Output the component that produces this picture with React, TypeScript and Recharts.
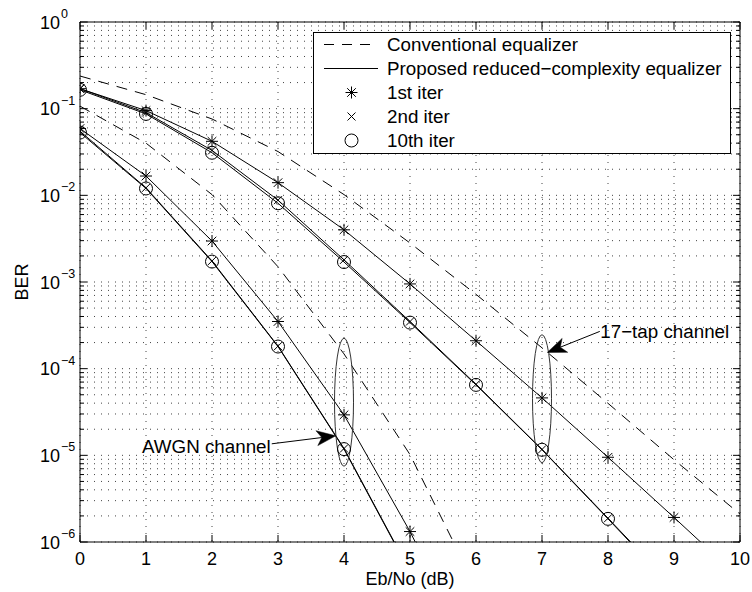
import React from "react";
import {
  LineChart,
  Line,
  XAxis,
  YAxis,
  CartesianGrid,
  ReferenceDot,
  Legend,
} from "recharts";

const FONT = '"Liberation Sans", Arial, Helvetica, sans-serif';

const snrDb = [0, 1, 2, 3, 4, 5, 6, 7, 8, 9, 10];

// 17-tap channel
const tapConventional = [0.238, 0.145, 0.076, 0.032, 0.0102, 2.82e-3, 7.2e-4, 1.74e-4, 3.98e-5, 8.9e-6, 2.1e-6];
const tapIter1 = [0.17, 0.095, 0.042, 0.014, 4.0e-3, 9.5e-4, 2.1e-4, 4.6e-5, 9.5e-6, 1.92e-6, 3.8e-7];
const tapIter2 = [0.17, 0.09, 0.033, 8.8e-3, 1.8e-3, 3.5e-4, 6.6e-5, 1.17e-5, 1.88e-6, 3.0e-7];
const tapIter10 = [0.165, 0.087, 0.031, 8.1e-3, 1.7e-3, 3.4e-4, 6.5e-5, 1.16e-5, 1.85e-6, 2.9e-7];

// AWGN channel
const awgnConventional = [0.107, 0.04, 0.0102, 1.5e-3, 1.48e-4, 1.02e-5, 3.0e-7];
const awgnIter1 = [0.059, 0.0167, 2.97e-3, 3.5e-4, 2.93e-5, 1.32e-6, 4.0e-8];
const awgnIter2 = [0.055, 0.0122, 1.75e-3, 1.82e-4, 1.2e-5, 4.6e-7];
const awgnIter10 = [0.053, 0.012, 1.72e-3, 1.8e-4, 1.18e-5, 4.5e-7];

const xTicks = [0, 1, 2, 3, 4, 5, 6, 7, 8, 9, 10];
const berTicks = [1e-6, 1e-5, 1e-4, 1e-3, 1e-2, 1e-1, 1];
const minorSteps = [2, 3, 4, 5, 6, 7, 8, 9];
const berGridTicks = berTicks.flatMap((t, i) =>
  i === berTicks.length - 1
    ? [t]
    : [t, ...minorSteps.map((m) => Number((m * t).toPrecision(2)))]
);

const legendLabels = [
  "Conventional equalizer",
  "Proposed reduced\u2212complexity equalizer",
  "1st iter",
  "2nd iter",
  "10th iter",
];
const legendKinds = ["dash", "solid", "star", "cross", "circle"];

// annotation anchors (data coordinates)
const awgnEllipse = { x: 4, y: 4.1e-5 };
const tapEllipse = { x: 7, y: 4.5e-5 };
const awgnArrowTip = { x: 3.875, y: 1.68e-5 };
const tapArrowTip = { x: 7.08, y: 1.54e-4 };

const data = snrDb.map((x, i) => ({
  x,
  tapConventional: tapConventional[i],
  tapIter1: tapIter1[i],
  tapIter2: tapIter2[i],
  tapIter10: tapIter10[i],
  awgnConventional: awgnConventional[i],
  awgnIter1: awgnIter1[i],
  awgnIter2: awgnIter2[i],
  awgnIter10: awgnIter10[i],
}));

const isMajor = (v: number) => berTicks.some((t) => Math.abs(t - v) / t < 1e-6);

function StarMark({ cx, cy }: { cx: number; cy: number }) {
  const s = 6;
  const d = 4.3;
  return (
    <g stroke="#000" strokeWidth={1} fill="none">
      <line x1={cx - s} y1={cy} x2={cx + s} y2={cy} />
      <line x1={cx} y1={cy - s} x2={cx} y2={cy + s} />
      <line x1={cx - d} y1={cy - d} x2={cx + d} y2={cy + d} />
      <line x1={cx - d} y1={cy + d} x2={cx + d} y2={cy - d} />
    </g>
  );
}

function CrossMark({ cx, cy }: { cx: number; cy: number }) {
  const d = 4;
  return (
    <g stroke="#000" strokeWidth={1} fill="none">
      <line x1={cx - d} y1={cy - d} x2={cx + d} y2={cy + d} />
      <line x1={cx - d} y1={cy + d} x2={cx + d} y2={cy - d} />
    </g>
  );
}

function CircleMark({ cx, cy }: { cx: number; cy: number }) {
  return <circle cx={cx} cy={cy} r={6.5} stroke="#000" strokeWidth={1} fill="none" />;
}

function makeDot(kind: string, name: string) {
  return (props: any) => {
    const { cx, cy, index } = props;
    const key = `${name}-${index}`;
    if (cx == null || cy == null || isNaN(cy)) return <g key={key} />;
    if (kind === "star") return <StarMark key={key} cx={cx} cy={cy} />;
    if (kind === "cross") return <CrossMark key={key} cx={cx} cy={cy} />;
    return <CircleMark key={key} cx={cx} cy={cy} />;
  };
}

// left axis: inward tick marks (long for decades, short for minor) + 10^n labels
function LeftTick(props: any) {
  const { x, y, payload } = props;
  const major = isMajor(payload.value);
  const len = major ? 7 : 4;
  if (!major) {
    return <line x1={x} y1={y} x2={x + len} y2={y} stroke="#000" strokeWidth={1} />;
  }
  const exp = Math.round(Math.log10(payload.value));
  const expText = exp < 0 ? `\u2212${-exp}` : `${exp}`;
  return (
    <g>
      <line x1={x} y1={y} x2={x + len} y2={y} stroke="#000" strokeWidth={1} />
      <text x={x - 20} y={y + 6.5} textAnchor="end" fontSize={18} fontFamily={FONT} fill="#000">
        10
      </text>
      <text x={x - 19} y={y - 4} textAnchor="start" fontSize={12.5} fontFamily={FONT} fill="#000">
        {expText}
      </text>
    </g>
  );
}

function RightTick(props: any) {
  const { x, y, payload } = props;
  const len = isMajor(payload.value) ? 7 : 4;
  return <line x1={x} y1={y} x2={x - len} y2={y} stroke="#000" strokeWidth={1} />;
}

function BottomTick(props: any) {
  const { x, y, payload } = props;
  return (
    <g>
      <line x1={x} y1={y} x2={x} y2={y - 7} stroke="#000" strokeWidth={1} />
      <text x={x} y={y + 23} textAnchor="middle" fontSize={18} fontFamily={FONT} fill="#000">
        {payload.value}
      </text>
    </g>
  );
}

function TopTick(props: any) {
  const { x, y } = props;
  return <line x1={x} y1={y} x2={x} y2={y + 7} stroke="#000" strokeWidth={1} />;
}

function ellipseShape(props: any) {
  const { cx, cy } = props;
  return <ellipse cx={cx} cy={cy} rx={9.5} ry={64} fill="none" stroke="#333" strokeWidth={1} />;
}

function arrowShape(dx: number, dy: number, label: string, textDx: number, textDy: number, anchor: "start" | "end") {
  return (props: any) => {
    const { cx, cy } = props;
    const tx = cx + dx;
    const ty = cy + dy;
    const len = Math.hypot(cx - tx, cy - ty);
    const ux = (cx - tx) / len;
    const uy = (cy - ty) / len;
    const nx = -uy;
    const ny = ux;
    const L = 19;
    const W = 7.5;
    const notch = 5;
    const bx = cx - ux * L;
    const by = cy - uy * L;
    const mx = cx - ux * (L - notch);
    const my = cy - uy * (L - notch);
    const pts = [
      [cx, cy],
      [bx + nx * W, by + ny * W],
      [mx, my],
      [bx - nx * W, by - ny * W],
    ]
      .map((p) => p.join(","))
      .join(" ");
    return (
      <g>
        <line x1={tx} y1={ty} x2={mx} y2={my} stroke="#000" strokeWidth={1} />
        <polygon points={pts} fill="#000" stroke="#000" strokeWidth={0.5} />
        <text x={cx + textDx} y={cy + textDy} textAnchor={anchor} fontSize={18.8} fontFamily={FONT} fill="#000">
          {label}
        </text>
      </g>
    );
  };
}

function LegendBox() {
  const rowY = (i: number) => 12.5 + i * 24;
  return (
    <svg width={418} height={122} style={{ display: "block", background: "#fff" }}>
      <rect x={0.5} y={0.5} width={417} height={121} fill="#fff" stroke="#000" strokeWidth={1} />
      {legendLabels.map((label, i) => {
        const y = rowY(i);
        const kind = legendKinds[i];
        let sample: React.ReactNode = null;
        if (kind === "dash")
          sample = <line x1={11} y1={y} x2={65} y2={y} stroke="#000" strokeWidth={1} strokeDasharray="10 8" />;
        else if (kind === "solid")
          sample = <line x1={11} y1={y} x2={65} y2={y} stroke="#000" strokeWidth={1} />;
        else if (kind === "star") sample = <StarMark cx={38.5} cy={y} />;
        else if (kind === "cross") sample = <CrossMark cx={38.5} cy={y} />;
        else sample = <CircleMark cx={38.5} cy={y} />;
        return (
          <g key={label}>
            {sample}
            <text x={74} y={y + 6.6} fontSize={18.8} fontFamily={FONT} fill="#000">
              {label}
            </text>
          </g>
        );
      })}
    </svg>
  );
}

const axisLine = { stroke: "#000", strokeWidth: 1 };

export default function App() {
  return (
    <div style={{ position: "absolute", left: 0, top: 0, width: 752, height: 592, background: "#fff" }}>
      <LineChart
        width={752}
        height={592}
        data={data}
        margin={{ top: 0, right: 0, bottom: 0, left: 0 }}
      >
        <CartesianGrid
          xAxisId="x"
          yAxisId="y"
          stroke="#444"
          strokeWidth={1}
          strokeDasharray="1 6"
        />
        <XAxis
          xAxisId="x"
          dataKey="x"
          type="number"
          domain={[0, 10]}
          ticks={xTicks}
          interval={0}
          height={50}
          allowDataOverflow
          tickSize={0}
          tickMargin={0}
          axisLine={axisLine}
          tickLine={false}
          tick={BottomTick}
          label={{
            value: "Eb/No (dB)",
            content: (p: any) => {
              const vb = p.viewBox || { x: 80, y: 542, width: 660 };
              return (
                <text x={vb.x + vb.width / 2} y={vb.y + 43} textAnchor="middle" fontSize={18} fontFamily={FONT} fill="#000">
                  Eb/No (dB)
                </text>
              );
            },
          }}
        />
        <XAxis
          xAxisId="top"
          orientation="top"
          dataKey="x"
          type="number"
          domain={[0, 10]}
          ticks={xTicks}
          interval={0}
          height={22}
          allowDataOverflow
          tickSize={0}
          tickMargin={0}
          axisLine={axisLine}
          tickLine={false}
          tick={TopTick}
        />
        <YAxis
          yAxisId="y"
          type="number"
          scale="log"
          domain={[1e-6, 1]}
          allowDataOverflow
          ticks={berGridTicks}
          interval={0}
          width={80}
          tickSize={0}
          tickMargin={0}
          axisLine={axisLine}
          tickLine={false}
          tick={LeftTick}
          label={{
            value: "BER",
            content: (p: any) => {
              const vb = p.viewBox || { x: 0, y: 22, width: 80, height: 520 };
              const lx = vb.x + vb.width - 52;
              const ly = vb.y + vb.height / 2;
              return (
                <text
                  x={lx}
                  y={ly}
                  textAnchor="middle"
                  transform={`rotate(-90, ${lx}, ${ly})`}
                  fontSize={18}
                  fontFamily={FONT}
                  fill="#000"
                >
                  BER
                </text>
              );
            },
          }}
        />
        <YAxis
          yAxisId="right"
          orientation="right"
          type="number"
          scale="log"
          domain={[1e-6, 1]}
          allowDataOverflow
          ticks={berGridTicks}
          interval={0}
          width={12}
          tickSize={0}
          tickMargin={0}
          axisLine={axisLine}
          tickLine={false}
          tick={RightTick}
        />

        <Line xAxisId="x" yAxisId="y" dataKey="tapConventional" stroke="#000" strokeWidth={1} strokeDasharray="11 8" dot={false} activeDot={false} isAnimationActive={false} />
        <Line xAxisId="x" yAxisId="y" dataKey="awgnConventional" stroke="#000" strokeWidth={1} strokeDasharray="11 8" dot={false} activeDot={false} isAnimationActive={false} />
        <Line xAxisId="x" yAxisId="y" dataKey="tapIter1" stroke="#000" strokeWidth={1} dot={makeDot("star", "t1")} activeDot={false} isAnimationActive={false} />
        <Line xAxisId="x" yAxisId="y" dataKey="tapIter2" stroke="#000" strokeWidth={1} dot={makeDot("cross", "t2")} activeDot={false} isAnimationActive={false} />
        <Line xAxisId="x" yAxisId="y" dataKey="tapIter10" stroke="#000" strokeWidth={1} dot={makeDot("circle", "t10")} activeDot={false} isAnimationActive={false} />
        <Line xAxisId="x" yAxisId="y" dataKey="awgnIter1" stroke="#000" strokeWidth={1} dot={makeDot("star", "a1")} activeDot={false} isAnimationActive={false} />
        <Line xAxisId="x" yAxisId="y" dataKey="awgnIter2" stroke="#000" strokeWidth={1} dot={makeDot("cross", "a2")} activeDot={false} isAnimationActive={false} />
        <Line xAxisId="x" yAxisId="y" dataKey="awgnIter10" stroke="#000" strokeWidth={1} dot={makeDot("circle", "a10")} activeDot={false} isAnimationActive={false} />

        <ReferenceDot xAxisId="x" yAxisId="y" x={awgnEllipse.x} y={awgnEllipse.y} ifOverflow="visible" shape={ellipseShape} />
        <ReferenceDot xAxisId="x" yAxisId="y" x={tapEllipse.x} y={tapEllipse.y} ifOverflow="visible" shape={ellipseShape} />
        <ReferenceDot
          xAxisId="x"
          yAxisId="y"
          x={awgnArrowTip.x}
          y={awgnArrowTip.y}
          ifOverflow="visible"
          shape={arrowShape(-64, 8, "AWGN channel", -65, 17.3, "end")}
        />
        <ReferenceDot
          xAxisId="x"
          yAxisId="y"
          x={tapArrowTip.x}
          y={tapArrowTip.y}
          ifOverflow="visible"
          shape={arrowShape(52.5, -21, "17\u2212tap channel", 53, -14, "start")}
        />

        <Legend
          layout="horizontal"
          verticalAlign="middle"
          align="center"
          width={418}
          height={122}
          wrapperStyle={{ left: 313, top: 32, width: 418, height: 122 }}
          content={() => <LegendBox />}
        />
      </LineChart>
    </div>
  );
}
